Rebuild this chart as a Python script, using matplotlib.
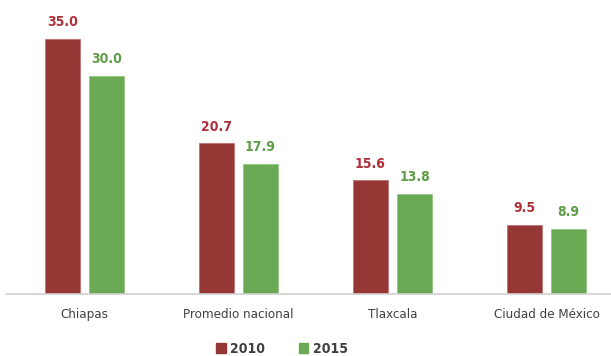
import matplotlib.pyplot as plt
import numpy as np
from matplotlib.patches import Patch

categories = ['Chiapas', 'Promedio nacional', 'Tlaxcala', 'Ciudad de México']
years = ['2010', '2015']
values_2010 = [35.0, 20.7, 15.6, 9.5]
values_2015 = [30.0, 17.9, 13.8, 8.9]

red = '#953735'
green = '#6aaa55'
red_txt = '#b0303a'
green_txt = '#5f9c48'

font = ['DejaVu Sans']
plt.rcParams['font.family'] = font
plt.rcParams['font.stretch'] = 'condensed'

fig = plt.figure(figsize=(6.11, 3.56), dpi=100)
ax = fig.add_axes([6/611, 62/356, 605/611, 294/356])

x = np.arange(len(categories))
w = 35/154
off = 22/154
b1 = ax.bar(x - off, values_2010, w, color=red, edgecolor='#b86a6a', linewidth=0.5)
b2 = ax.bar(x + off, values_2015, w, color=green, edgecolor='#8cc07a', linewidth=0.5)

for bars, vals, c in [(b1, values_2010, red_txt), (b2, values_2015, green_txt)]:
    for r, v in zip(bars, vals):
        ax.annotate('%.1f' % v, (r.get_x() + r.get_width()/2, v),
                    xytext=(0, 7), textcoords='offset points',
                    ha='center', va='bottom', fontsize=10, fontweight='bold',
                    fontstretch='condensed', color=c)

ax.set_xlim((6-84.5)/154, (611-84.5)/154)
ax.set_ylim(0, 294/7.28)
ax.set_xticks(x)
ax.set_xticklabels(categories, fontsize=9.5, color='#404040', fontstretch='condensed')
ax.tick_params(axis='x', length=0, pad=10)
ax.set_yticks([])
for s in ['top', 'right', 'left']:
    ax.spines[s].set_visible(False)
ax.spines['bottom'].set_color('#d0d0d0')
ax.spines['bottom'].set_linewidth(1.2)

handles = [Patch(color=red), Patch(color=green)]
leg = fig.legend(handles, years, loc='center', bbox_to_anchor=(282/611, 1 - 349/356),
                 ncol=2, frameon=False, handlelength=0.7, handleheight=0.7,
                 handletextpad=0.3, columnspacing=2.4,
                 prop={'family': font, 'weight': 'bold', 'size': 10, 'stretch': 'condensed'})
for t in leg.get_texts():
    t.set_color('#404040')

fig.savefig('out.png', dpi=100)
